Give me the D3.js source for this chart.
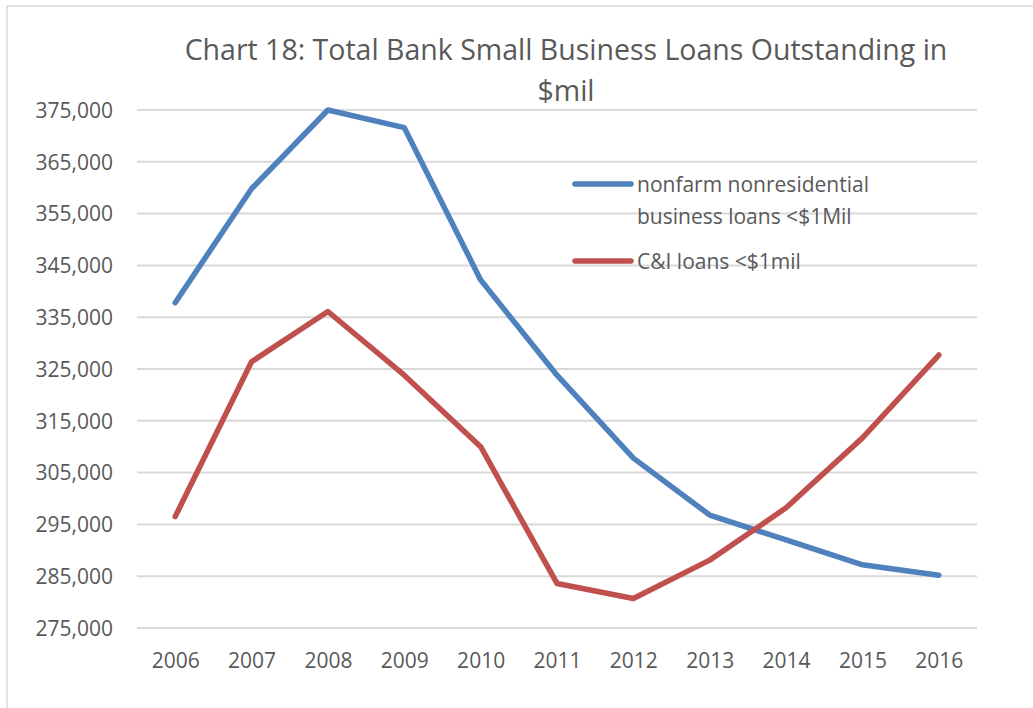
<!DOCTYPE html>
<html>
<head>
<meta charset="utf-8">
<script src="https://cdn.jsdelivr.net/npm/d3@7"></script>
<style>
  body { margin: 0; background: #fff; }
  text { font-family: "Open Sans", sans-serif; fill: #595959; }
</style>
</head>
<body>
<svg width="1033" height="708"></svg>
<script>
var svg = d3.select("svg"),
    width = +svg.attr("width"),
    height = +svg.attr("height");

// Data
var years = ["2006", "2007", "2008", "2009", "2010", "2011", "2012", "2013", "2014", "2015", "2016"];
var nonfarm = [337800, 359800, 375000, 371600, 342200, 323800, 307800, 296800, 292000, 287200, 285200];
var cni = [296500, 326400, 336100, 323800, 310000, 283600, 280700, 288100, 298200, 311700, 327700];
var yTicks = d3.range(275000, 375001, 10000);
var seriesNames = ["nonfarm nonresidential|business loans <$1Mil", "C&I loans <$1mil"];
var colors = ["#4f81bd", "#c0504d"];

// outer chart border
svg.append("rect")
    .attr("x", 7).attr("y", 6)
    .attr("width", width + 20).attr("height", height + 20)
    .attr("fill", "none")
    .attr("stroke", "#d9d9d9")
    .attr("stroke-width", 1.5);

// Scales
var x = d3.scalePoint()
    .domain(years)
    .range([137, 977])
    .padding(0.5);
var y = d3.scaleLinear()
    .domain([275000, 375000])
    .range([628, 110]);

// Gridlines
svg.append("g")
    .selectAll("line")
    .data(yTicks)
    .enter().append("line")
        .attr("x1", 137).attr("x2", 977)
        .attr("y1", function (d) { return y(d); })
        .attr("y2", function (d) { return y(d); })
        .attr("stroke", "#d9d9d9")
        .attr("stroke-width", 2);

// Axes
var yAxis = svg.append("g")
    .attr("transform", "translate(113,0)")
    .call(d3.axisLeft(y).tickValues(yTicks).tickSize(0).tickPadding(0).tickFormat(d3.format(",")));
var xAxis = svg.append("g")
    .attr("transform", "translate(0,648)")
    .call(d3.axisBottom(x).tickSize(0).tickPadding(0));
svg.selectAll(".domain").remove();
yAxis.selectAll("text")
    .attr("dy", "0.35em")
    .style("font-size", "21px")
    .attr("fill", "#595959");
xAxis.selectAll("text")
    .attr("dy", "0.95em")
    .style("font-size", "21px")
    .attr("fill", "#595959");

// Lines
var line = d3.line()
    .x(function (d, i) { return x(years[i]); })
    .y(function (d) { return y(d); });
[nonfarm, cni].forEach(function (s, k) {
    svg.append("path")
        .datum(s)
        .attr("fill", "none")
        .attr("stroke", colors[k])
        .attr("stroke-width", 5.5)
        .attr("stroke-linejoin", "round")
        .attr("stroke-linecap", "round")
        .attr("d", line);
});

// Title
var title = svg.append("text")
    .attr("text-anchor", "middle")
    .style("font-size", "28.5px");
title.append("tspan").attr("x", 566).attr("y", 60)
    .text("Chart 18: Total Bank Small Business Loans Outstanding in");
title.append("tspan").attr("x", 566).attr("y", 101)
    .text("$mil");

// Legend
var legend = svg.append("g");
var legendY = [184, 261];
seriesNames.forEach(function (name, k) {
    legend.append("line")
        .attr("x1", 575).attr("x2", 631)
        .attr("y1", legendY[k]).attr("y2", legendY[k])
        .attr("stroke", colors[k])
        .attr("stroke-width", 5.5)
        .attr("stroke-linecap", "round");
    var t = legend.append("text")
        .style("font-size", "21px");
    name.split("|").forEach(function (part, j) {
        t.append("tspan")
            .attr("x", 637)
            .attr("y", legendY[k] + 8 + j * 32)
            .text(part);
    });
});
</script>
</body>
</html>
